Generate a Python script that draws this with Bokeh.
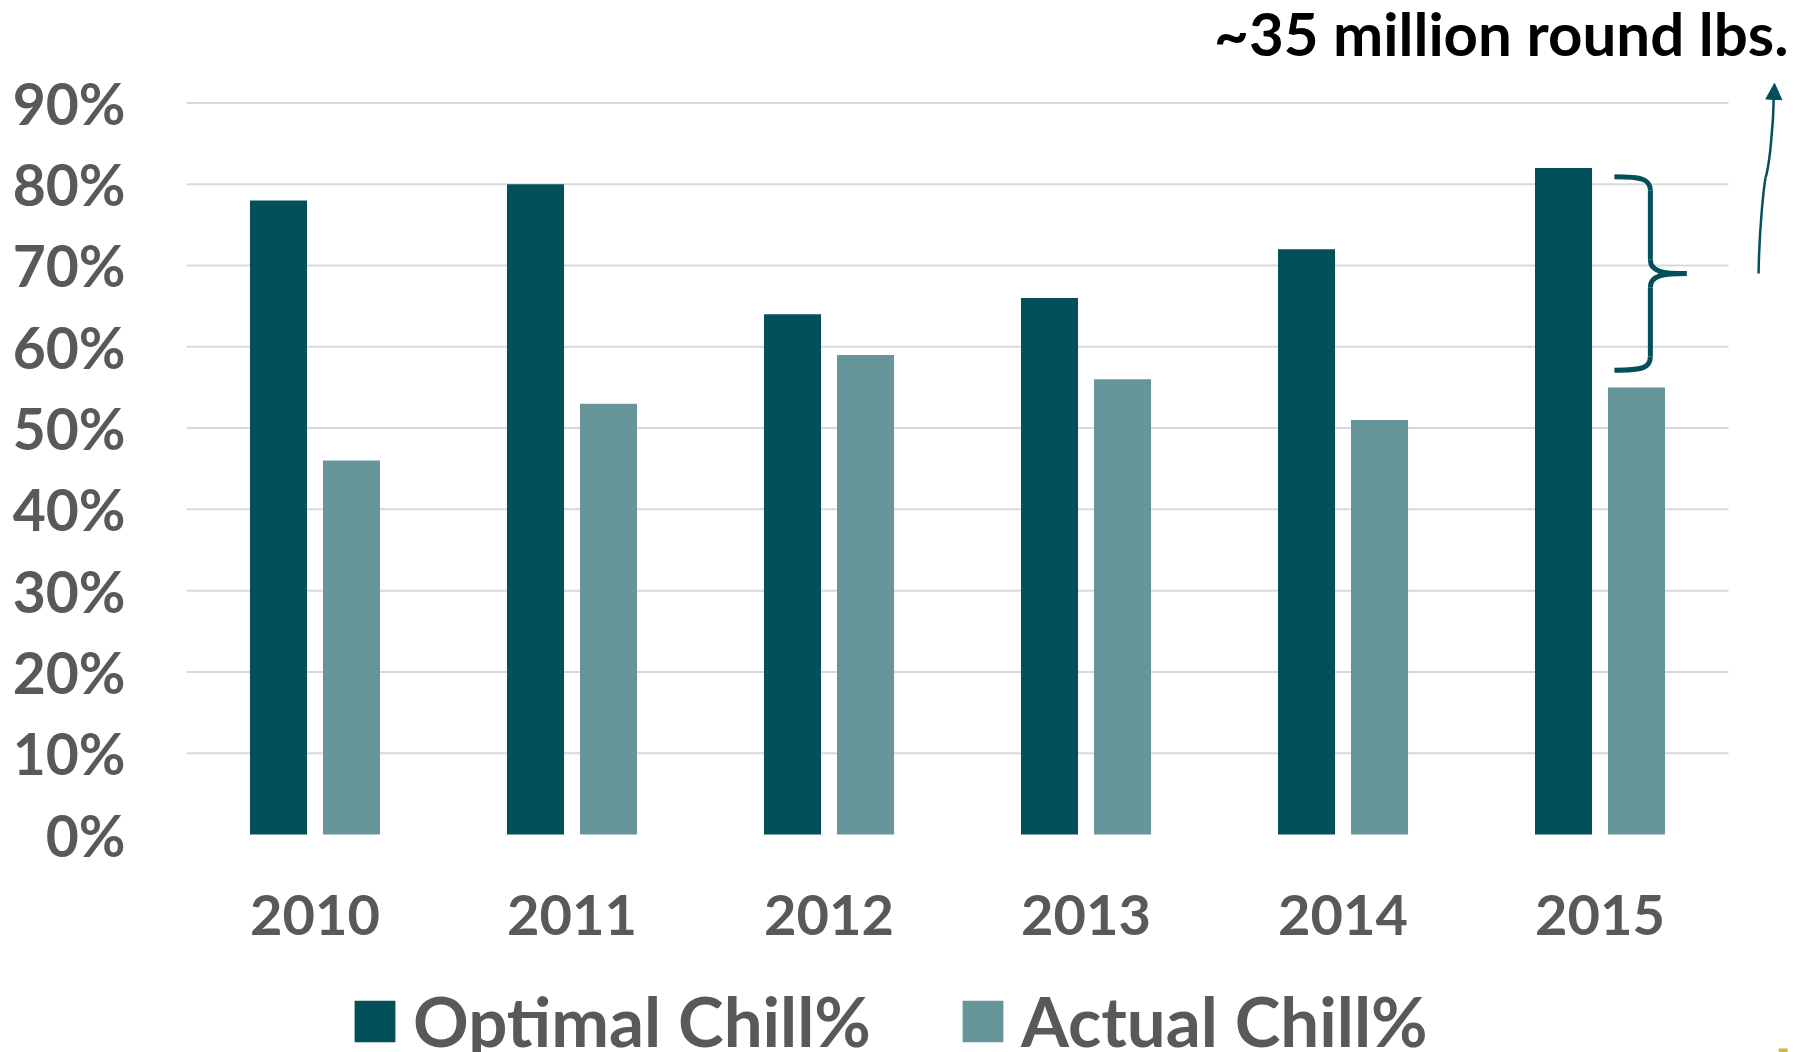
from bokeh.plotting import figure
from bokeh.models import (Range1d, FixedTicker, PrintfTickFormatter, Legend, LegendItem,
                          Label, Arrow, NormalHead, BoxAnnotation, ColumnDataSource)
from bokeh.embed import file_html
from bokeh.resources import INLINE

# Chill percentages per season
years = ["2010", "2011", "2012", "2013", "2014", "2015"]
optimal = [78, 80, 64, 66, 72, 82]
actual = [46, 53, 59, 56, 51, 55]
y_ticks = [0, 10, 20, 30, 40, 50, 60, 70, 80, 90]
series_names = ["Optimal Chill%", "Actual Chill%"]
callout = "~35 million round lbs."

DARK = "#034F5A"
LIGHT = "#67969A"
GREY = "#595959"
GRID = "#D9D9D9"
GOLD = "#D4B54A"
FONT = "Lato"

W, H = 1797, 1052
LEFT = 186
PX_PER_CAT = 257.0          # horizontal pixels per year slot
PX_PER_PCT = 8.129          # vertical pixels per percentage point
ZERO_PX = 834               # distance of the 0% line from the top edge

x_end = (W - LEFT) / PX_PER_CAT
y_end = ZERO_PX / PX_PER_PCT
y_start = -(H - ZERO_PX) / PX_PER_PCT

BAR_W = 0.222
OFFSET = 0.142
centers = [i + 0.5 for i in range(len(years))]

src = ColumnDataSource(dict(
    x_opt=[c - OFFSET for c in centers],
    x_act=[c + OFFSET for c in centers],
    optimal=optimal,
    actual=actual,
))

p = figure(width=W, height=H, x_range=Range1d(0, x_end), y_range=Range1d(y_start, y_end),
           output_backend="svg", toolbar_location=None,
           min_border_left=LEFT, min_border_right=0,
           min_border_top=0, min_border_bottom=0)
p.outline_line_color = None
p.background_fill_color = "white"
p.border_fill_color = "white"

# horizontal gridlines across the year slots only
p.xgrid.visible = False
p.ygrid.visible = False
grid_vals = y_ticks[1:]
p.segment(x0=[0] * len(grid_vals), x1=[len(years)] * len(grid_vals),
          y0=grid_vals, y1=grid_vals,
          line_color=GRID, line_width=2, level="underlay")

# y axis
yax = p.yaxis[0]
yax.ticker = FixedTicker(ticks=y_ticks)
yax.formatter = PrintfTickFormatter(format="%d%%")
yax.axis_line_color = None
yax.major_tick_line_color = None
yax.minor_tick_line_color = None
yax.major_tick_out = 0
yax.major_tick_in = 0
yax.major_label_standoff = 61
yax.major_label_text_font = FONT
yax.major_label_text_font_style = "bold"
yax.major_label_text_font_size = "57px"
yax.major_label_text_color = GREY

# year labels drawn as text under each year slot
p.xaxis.visible = False
p.text(x=centers, y=[-9.9] * len(years), text=years,
       text_align="center", text_baseline="middle",
       text_font={"value": FONT}, text_font_style="bold",
       text_font_size="56px", text_color=GREY)

r_opt = p.vbar(x="x_opt", top="optimal", width=BAR_W, bottom=0, source=src,
               fill_color=DARK, line_color=None)
r_act = p.vbar(x="x_act", top="actual", width=BAR_W, bottom=0, source=src,
               fill_color=LIGHT, line_color=None)

# curly brace over the 2015 gap
xa = centers[-1] + OFFSET
b_left, b_vert, b_tip = xa - 0.086, xa + 0.054, xa + 0.195
b_top = optimal[-1] - 1.1
b_bot = actual[-1] + 2.1
b_mid = (b_top + b_bot) / 2
rr = 1.7
p.bezier(
    x0=[b_left, b_vert, b_vert, b_tip, b_vert, b_vert],
    y0=[b_top, b_top - rr, b_mid + rr, b_mid, b_mid - rr, b_bot + rr],
    x1=[b_vert, b_vert, b_tip, b_vert, b_vert, b_left],
    y1=[b_top - rr, b_mid + rr, b_mid, b_mid - rr, b_bot + rr, b_bot],
    cx0=[b_vert - 0.03, b_vert, b_vert, b_vert + 0.05, b_vert, b_vert],
    cy0=[b_top, b_top - rr, b_mid + 0.2, b_mid, b_mid - rr, b_bot + 0.3],
    cx1=[b_vert, b_vert, b_vert + 0.05, b_vert, b_vert, b_vert - 0.03],
    cy1=[b_top - 0.3, b_mid + rr, b_mid, b_mid - 0.2, b_bot + rr, b_bot],
    line_color=DARK, line_width=5,
)

# hand-drawn style arrow rising to the callout
a_x0, a_xk, a_x2 = 6.117, 6.144, 6.179
a_yk, a_y2 = 80.8, 92.4
p.bezier(x0=[a_x0, a_xk], y0=[b_mid, a_yk],
         x1=[a_xk, a_x2 - 0.002], y1=[a_yk, a_y2 - 1.2],
         cx0=[a_x0 + 0.003, a_xk + 0.012], cy0=[b_mid + 6, a_yk + 1.0],
         cx1=[a_xk - 0.006, a_x2 - 0.005], cy1=[a_yk - 1.2, a_y2 - 6],
         line_color=DARK, line_width=2.5)
p.add_layout(Arrow(x_start=a_x2 - 0.002, y_start=a_y2 - 1.5, x_end=a_x2, y_end=a_y2,
                   end=NormalHead(size=16, fill_color=DARK, line_color=DARK),
                   line_color=DARK, line_width=2.5))

p.add_layout(Label(x=6.233, y=98.6, text=callout, text_align="right",
                   text_baseline="alphabetic", text_font=FONT, text_font_style="bold",
                   text_font_size="60px", text_color="black"))

# small slide accent in the lower right corner
p.add_layout(BoxAnnotation(left=6.195, right=6.230, bottom=y_start, top=y_start + 0.5,
                           fill_color=GOLD, fill_alpha=1, line_color=None))

legend = Legend(items=[LegendItem(label=series_names[0], renderers=[r_opt]),
                       LegendItem(label=series_names[1], renderers=[r_act])],
                orientation="horizontal", location=(163, -10),
                glyph_width=51, glyph_height=52, label_standoff=13, spacing=86,
                padding=0, margin=0, border_line_color=None, background_fill_alpha=0,
                label_text_font=FONT, label_text_font_style="bold",
                label_text_font_size="69px", label_text_color=GREY)
p.add_layout(legend, "center")

open("out.html", "w").write(file_html(p, INLINE))
